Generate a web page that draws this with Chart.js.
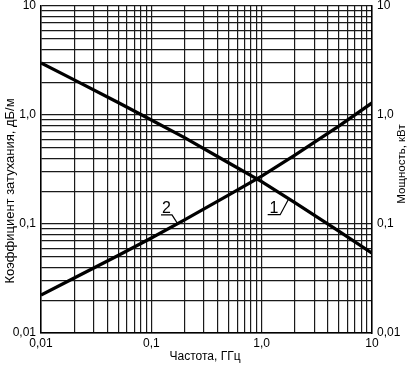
<!DOCTYPE html>
<html>
<head>
<meta charset="utf-8">
<script src="https://cdn.jsdelivr.net/npm/chart.js@4/dist/chart.umd.min.js"></script>
<style>
html, body { margin: 0; padding: 0; background: #fff; }
canvas { display: block; }
</style>
</head>
<body>
<canvas id="grafica" width="410" height="365"></canvas>
<script>
// частота, ГГц
const frecuencias = [0.01, 0.02, 0.05, 0.1, 0.2, 0.5, 1, 2, 5, 10];
// кривая 1 (падающая)
const curva1 = [3.0, 2.1, 1.3, 0.9, 0.62, 0.365, 0.245, 0.157, 0.086, 0.054];
// кривая 2 (растущая)
const curva2 = [0.0223, 0.032, 0.0515, 0.0745, 0.109, 0.184, 0.275, 0.428, 0.79, 1.29];

const valoresEtiquetas = [0.01, 0.1, 1, 10];
const etiquetas = ['0,01', '0,1', '1,0', '10'];

const tituloX = 'Частота, ГГц';
const tituloY = 'Коэффициент затухания, дБ/м';
const tituloY2 = 'Мощность, кВт';

// подписи кривых: точка на кривой (f, v)
const marcas = [
  { texto: '1', f: 1.75, v: 0.169, dx: -8.3, dy: 15.5, largo: 12.5 },
  { texto: '2', f: 0.173, v: 0.1007, dx: -5.6, dy: -8.8, largo: 11 }
];

const fuente = '"Liberation Sans", Arial, sans-serif';

function lineasGrid(scale) {
  const vals = [];
  [0.01, 0.1, 1].forEach(d => {
    for (let m = 1; m <= 9; m++) vals.push(m * d);
  });
  vals.push(10);
  scale.ticks = vals.map(v => ({ value: v }));
}

function etiqueta(value) {
  for (let i = 0; i < valoresEtiquetas.length; i++) {
    if (Math.abs(value - valoresEtiquetas[i]) < valoresEtiquetas[i] * 1e-6) return etiquetas[i];
  }
  return '';
}

const textos = {
  id: 'textos',
  afterDraw(chart) {
    const ctx = chart.ctx;
    const sx = chart.scales.x, sy = chart.scales.y;
    ctx.save();
    ctx.fillStyle = '#000';
    ctx.strokeStyle = '#000';
    ctx.textAlign = 'center';
    ctx.textBaseline = 'middle';
    ctx.font = '12px ' + fuente;
    ctx.fillText(tituloX, 205, 357);

    ctx.save();
    ctx.font = '13px ' + fuente;
    ctx.translate(10, 191);
    ctx.rotate(-Math.PI / 2);
    ctx.fillText(tituloY, 0, 0);
    ctx.restore();

    ctx.save();
    ctx.font = '11.5px ' + fuente;
    ctx.translate(402, 164);
    ctx.rotate(-Math.PI / 2);
    ctx.fillText(tituloY2, 0, 0);
    ctx.restore();

    ctx.font = '16px ' + fuente;
    ctx.textBaseline = 'alphabetic';
    ctx.lineWidth = 1.2;
    marcas.forEach(m => {
      const x0 = sx.getPixelForValue(m.f);
      const y0 = sy.getPixelForValue(m.v);
      const x1 = x0 + m.dx, y1 = y0 + m.dy;
      ctx.beginPath();
      ctx.moveTo(x0, y0);
      ctx.lineTo(x1, y1);
      ctx.lineTo(x1 - m.largo, y1);
      ctx.stroke();
      ctx.fillText(m.texto, x1 - m.largo / 2, y1 - 1.5);
    });
    ctx.restore();
  }
};

const ticksComunes = {
  autoSkip: false,
  maxRotation: 0,
  color: '#000',
  font: { family: fuente, size: 12 },
  callback: etiqueta
};

function ajusteVertical(ancho) {
  return s => {
    s.width = ancho;
    s.paddingTop = 6;
    s.paddingBottom = 0;
  };
}

new Chart(document.getElementById('grafica'), {
  type: 'line',
  data: {
    datasets: [
      {
        label: '1',
        data: frecuencias.map((f, i) => ({ x: f, y: curva1[i] })),
        borderColor: '#000',
        borderWidth: 3.3,
        pointRadius: 0,
        yAxisID: 'y'
      },
      {
        label: '2',
        data: frecuencias.map((f, i) => ({ x: f, y: curva2[i] })),
        borderColor: '#000',
        borderWidth: 3.3,
        pointRadius: 0,
        yAxisID: 'y'
      }
    ]
  },
  options: {
    responsive: false,
    animation: false,
    layout: { padding: 0 },
    plugins: {
      legend: { display: false },
      tooltip: { enabled: false }
    },
    scales: {
      x: {
        type: 'logarithmic',
        min: 0.01,
        max: 10,
        afterBuildTicks: lineasGrid,
        afterFit: s => { s.height = 32; s.paddingLeft = 0; s.paddingRight = 0; },
        ticks: Object.assign({}, ticksComunes, { padding: 3 }),
        grid: { color: '#1a1a1a', lineWidth: 1.2, drawTicks: false },
        border: { color: '#000', width: 1.5 }
      },
      y: {
        type: 'logarithmic',
        position: 'left',
        min: 0.01,
        max: 10,
        afterBuildTicks: lineasGrid,
        afterFit: ajusteVertical(41),
        ticks: Object.assign({}, ticksComunes, { padding: 5 }),
        grid: { color: '#1a1a1a', lineWidth: 1.2, drawTicks: false },
        border: { color: '#000', width: 1.5 }
      },
      y2: {
        type: 'logarithmic',
        position: 'right',
        min: 0.01,
        max: 10,
        afterBuildTicks: lineasGrid,
        afterFit: ajusteVertical(38),
        ticks: Object.assign({}, ticksComunes, { padding: 5 }),
        grid: { display: false, drawTicks: false },
        border: { color: '#000', width: 1.5 }
      }
    }
  },
  plugins: [textos]
});
</script>
</body>
</html>
